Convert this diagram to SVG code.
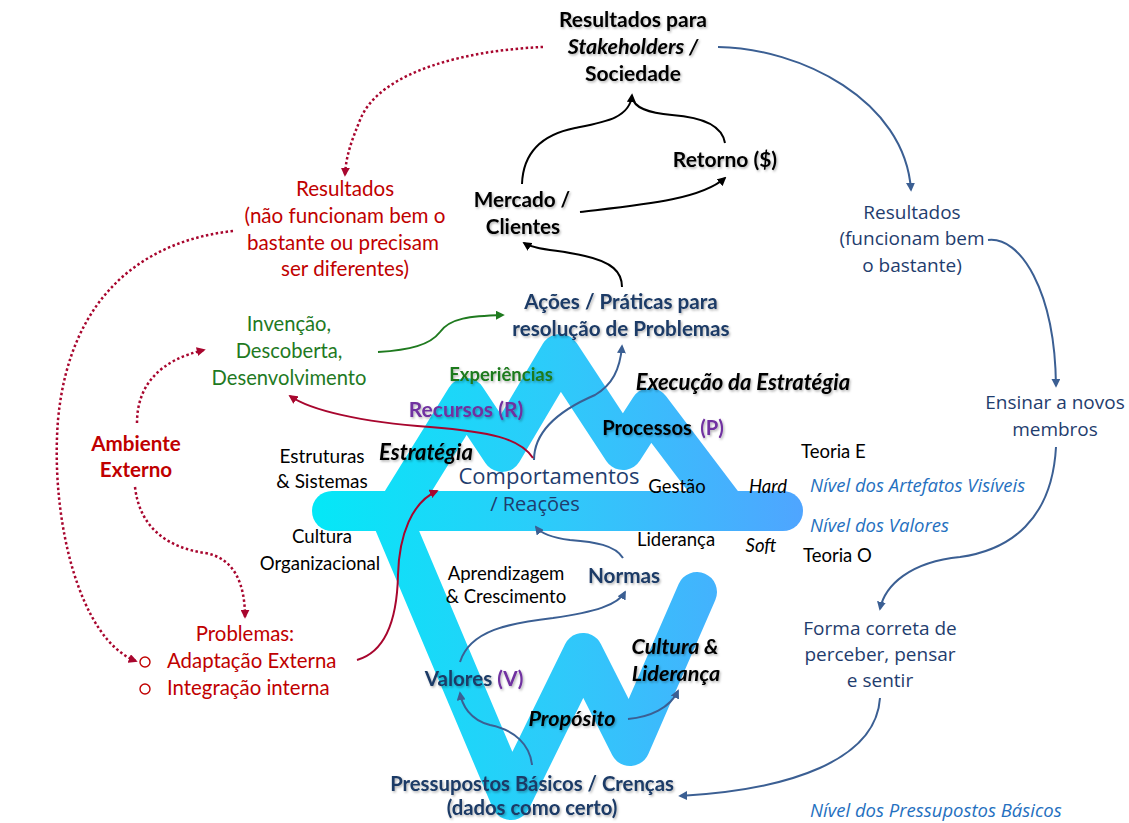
<svg xmlns="http://www.w3.org/2000/svg" width="1129" height="823" viewBox="0 0 1129 823">
  <defs>
    <linearGradient id="band" gradientUnits="userSpaceOnUse" x1="312" y1="0" x2="803" y2="0">
      <stop offset="0" stop-color="#04E8F7"/>
      <stop offset="0.5" stop-color="#2ECAFA"/>
      <stop offset="1" stop-color="#4FA5FF"/>
    </linearGradient>
    <filter id="sh" x="-10%" y="-30%" width="120%" height="160%">
      <feDropShadow dx="1.2" dy="1.5" stdDeviation="1" flood-color="#000" flood-opacity="0.3"/>
    </filter>
    <marker id="aK" viewBox="0 0 10 10" refX="8" refY="5" markerUnits="userSpaceOnUse" markerWidth="9" markerHeight="9" orient="auto">
      <path d="M0,0 L10,5 L0,10 z" fill="#000"/>
    </marker>
    <marker id="aB" viewBox="0 0 10 10" refX="8" refY="5" markerUnits="userSpaceOnUse" markerWidth="9" markerHeight="9" orient="auto">
      <path d="M0,0 L10,5 L0,10 z" fill="#3B5F93"/>
    </marker>
    <marker id="aR" viewBox="0 0 10 10" refX="8" refY="5" markerUnits="userSpaceOnUse" markerWidth="9" markerHeight="9" orient="auto">
      <path d="M0,0 L10,5 L0,10 z" fill="#A8062E"/>
    </marker>
    <marker id="aG" viewBox="0 0 10 10" refX="8" refY="5" markerUnits="userSpaceOnUse" markerWidth="9" markerHeight="9" orient="auto">
      <path d="M0,0 L10,5 L0,10 z" fill="#1F7A1F"/>
    </marker>
  </defs>
  <style>
    text { font-family: Lato, "Open Sans", sans-serif; text-anchor: middle; }
    .bd { font-weight: 700; filter: url(#sh); }
    .it { font-style: italic; }
    .seg { font-family: "Open Sans", Lato, sans-serif; }
    .blk { fill: #000; }
    .nav { fill: #1B3A66; }
    .blu { fill: #1F3D6E; }
    .lvl { fill: #2570C0; font-family: "Open Sans", sans-serif; font-style: italic; font-size: 18.5px; text-anchor: start; }
    .red { fill: #C00000; }
    .grn { fill: #1F7A1F; }
    .pur { fill: #7030A0; }
    .band { fill: none; stroke: url(#band); stroke-width: 40; stroke-linecap: round; stroke-linejoin: round; }
    .ck { fill: none; stroke: #000; stroke-width: 2; marker-end: url(#aK); }
    .cb { fill: none; stroke: #3B5F93; stroke-width: 2; marker-end: url(#aB); }
    .cr { fill: none; stroke: #A8062E; stroke-width: 2; marker-end: url(#aR); }
    .cd { fill: none; stroke: #A8062E; stroke-width: 2.5; stroke-dasharray: 2.5 2.5; marker-end: url(#aR); }
    .cg { fill: none; stroke: #1F7A1F; stroke-width: 2; marker-end: url(#aG); }
  </style>

  <!-- central band: horizontal bar, upper zigzag and lower W -->
  <g id="band-shape">
    <path class="band" d="M332,511 L783,511"/>
    <path class="band" d="M396,511 L466,398 L502,452 L560,354 L623,450 L650,408 L728,511"/>
    <path class="band" d="M389,511 L511,800 L583,653 L630,746 L697,592"/>
  </g>

  <!-- connectors -->
  <g id="connectors">
    <path class="ck" d="M522,184 C523,155 540,135 575,128 C605,122 630,118 632,95"/>
    <path class="ck" style="marker-end:none" d="M725,143 C722,125 700,117 672,115 C648,113 634,108 632,97"/>
    <path class="ck" d="M580,212 C640,205 700,200 725,178"/>
    <path class="ck" d="M622,287 C622,272 612,262 585,256 C560,250 535,250 524,243"/>

    <path class="cb" d="M718,47 C800,48 905,100 911,190"/>
    <path class="cb" d="M988,240 C1020,236 1055,290 1056,386"/>
    <path class="cb" d="M1056,447 C1052,520 1010,550 960,557 C910,562 885,585 880,609"/>
    <path class="cb" d="M880,698 C876,760 790,790 680,796"/>
    <path class="cb" d="M534,460 C534,430 560,410 595,395 C612,385 620,370 622,346"/>
    <path class="cb" d="M623,558 C615,545 595,542 570,540 C555,538 542,535 536,527"/>
    <path class="cb" d="M460,662 C470,630 510,623 553,618 C595,612 618,605 625,592"/>
    <path class="cb" d="M532,765 C530,745 515,730 490,725 C470,720 462,705 460,693"/>
    <path class="cb" d="M628,719 C650,717 670,708 678,691"/>

    <path class="cr" d="M533,458 C520,438 490,432 430,427 C360,422 310,410 290,396"/>
    <path class="cr" d="M357,660 C385,652 397,620 398,575 C399,535 412,502 437,491"/>

    <path class="cd" d="M543,47 C470,50 380,70 360,120 C352,140 346,155 345,175"/>
    <path class="cd" d="M233,231 C150,240 70,290 58,420 C50,520 80,640 136,661"/>
    <path class="cd" d="M137,423 C137,385 160,360 204,350"/>
    <path class="cd" d="M135,487 C140,530 170,548 205,553 C235,558 245,585 245,617"/>

    <path class="cg" d="M378,352 C410,350 430,345 440,332 C450,318 470,316 503,315"/>
  </g>

  <g id="stakeholders" font-size="21">
    <text class="bd blk" x="633" y="27">Resultados para</text>
    <text class="bd blk it" x="633" y="54" font-size="21.5">Stakeholders /</text>
    <text class="bd blk" x="633" y="81">Sociedade</text>
  </g>
  <g id="retorno" font-size="21">
    <text class="bd blk" x="725" y="167">Retorno ($)</text>
  </g>
  <g id="mercado" font-size="20.7">
    <text class="bd blk" x="522" y="207">Mercado /</text>
    <text class="bd blk" x="523" y="234">Clientes</text>
  </g>
  <g id="resultados-nao" font-size="20.6">
    <text class="red" x="345" y="196">Resultados</text>
    <text class="red" x="345" y="223">(não funcionam bem o</text>
    <text class="red" x="343" y="250">bastante ou precisam</text>
    <text class="red" x="345" y="276">ser diferentes)</text>
  </g>
  <g id="invencao" font-size="20.2">
    <text class="grn" x="289" y="331">Invenção,</text>
    <text class="grn" x="289" y="358">Descoberta,</text>
    <text class="grn" x="289" y="385">Desenvolvimento</text>
  </g>
  <g id="acoes" font-size="20.6">
    <text class="bd nav" x="621" y="309">Ações / Práticas para</text>
    <text class="bd nav" x="621" y="336">resolução de Problemas</text>
  </g>
  <g id="labels-top">
    <text class="bd grn" x="501" y="381" font-size="18.5">Experiências</text>
    <text class="bd blk it" x="743" y="390" font-size="22">Execução da Estratégia</text>
    <text class="bd pur" x="466" y="417" font-size="21">Recursos (R)</text>
    <text class="bd blk" x="647" y="435" font-size="20.2">Processos</text>
    <text class="bd pur" x="712" y="435" font-size="20.2">(P)</text>
    <text class="bd blk it" x="426" y="460" font-size="22">Estratégia</text>
  </g>
  <g id="estruturas" font-size="19">
    <text class="blk" x="322" y="463">Estruturas</text>
    <text class="blk" x="322" y="488">&amp; Sistemas</text>
  </g>
  <g id="comportamentos" font-size="20">
    <text class="seg blu" x="549" y="484" font-size="22">Comportamentos</text>
    <text class="seg blu" x="535" y="511">/ Reações</text>
  </g>
  <g id="gestao-lideranca" font-size="18.5">
    <text class="blk" x="801" y="458" style="text-anchor:start">Teoria E</text>
    <text class="blk" x="677" y="493">Gestão</text>
    <text class="blk it" x="768" y="493">Hard</text>
    <text class="blk" x="676" y="546">Liderança</text>
    <text class="blk it" x="761" y="552">Soft</text>
    <text class="blk" x="803" y="562" style="text-anchor:start">Teoria O</text>
  </g>
  <g id="niveis">
    <text class="lvl" x="810" y="492">Nível dos Artefatos Visíveis</text>
    <text class="lvl" x="810" y="532">Nível dos Valores</text>
    <text class="lvl" x="810" y="817">Nível dos Pressupostos Básicos</text>
  </g>
  <g id="cultura-org" font-size="18.6">
    <text class="blk" x="322" y="543">Cultura</text>
    <text class="blk" x="320" y="570">Organizacional</text>
  </g>
  <g id="ambiente" font-size="20.6">
    <text class="bd red" x="136" y="451" style="filter:none">Ambiente</text>
    <text class="bd red" x="136" y="477" style="filter:none">Externo</text>
  </g>
  <g id="aprendizagem" font-size="18.6">
    <text class="blk" x="506" y="580">Aprendizagem</text>
    <text class="blk" x="506" y="603">&amp; Crescimento</text>
  </g>
  <g id="normas" font-size="20.7">
    <text class="bd nav" x="624" y="583">Normas</text>
  </g>
  <g id="problemas" font-size="20.4">
    <text class="red" x="245" y="641">Problemas:</text>
    <circle cx="145" cy="662" r="5" fill="none" stroke="#C00000" stroke-width="1.4"/>
    <circle cx="145" cy="689" r="5" fill="none" stroke="#C00000" stroke-width="1.4"/>
    <text class="red" x="167" y="668" style="text-anchor:start">Adaptação Externa</text>
    <text class="red" x="167" y="695" style="text-anchor:start">Integração interna</text>
  </g>
  <g id="cultura-lideranca" font-size="21.5">
    <text class="bd blk it" x="675" y="654">Cultura &amp;</text>
    <text class="bd blk it" x="676" y="681">Liderança</text>
  </g>
  <g id="valores" font-size="20.6">
    <text class="bd" x="474" y="686"><tspan class="nav">Valores </tspan><tspan class="pur">(V)</tspan></text>
  </g>
  <g id="proposito" font-size="21.6">
    <text class="bd blk it" x="572" y="726">Propósito</text>
  </g>
  <g id="pressupostos" font-size="20.3">
    <text class="bd nav" x="532" y="791">Pressupostos Básicos / Crenças</text>
    <text class="bd nav" x="532" y="815">(dados como certo)</text>
  </g>
  <g id="forma-correta" font-size="19">
    <text class="seg blu" x="880" y="635">Forma correta de</text>
    <text class="seg blu" x="880" y="661">perceber, pensar</text>
    <text class="seg blu" x="880" y="687">e sentir</text>
  </g>
  <g id="resultados-ok" font-size="19">
    <text class="seg blu" x="912" y="219">Resultados</text>
    <text class="seg blu" x="912" y="245">(funcionam bem</text>
    <text class="seg blu" x="912" y="272">o bastante)</text>
  </g>
  <g id="ensinar" font-size="19">
    <text class="seg blu" x="1055" y="409">Ensinar a novos</text>
    <text class="seg blu" x="1055" y="436">membros</text>
  </g>
</svg>
